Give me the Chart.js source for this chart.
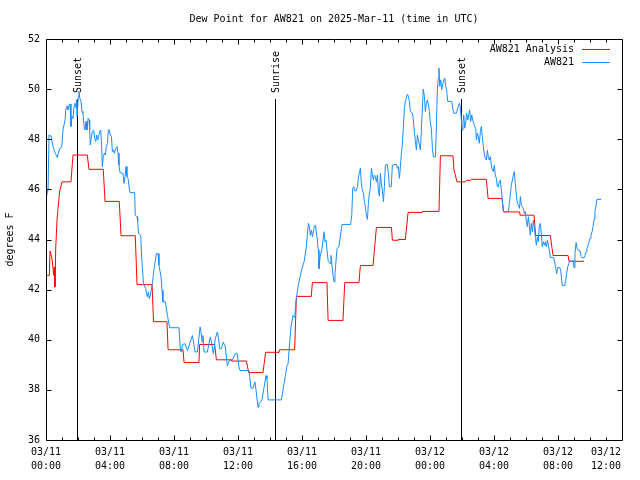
<!DOCTYPE html>
<html>
<head>
<meta charset="utf-8">
<script src="https://cdn.jsdelivr.net/npm/chart.js@4.4.1/dist/chart.umd.min.js"></script>
<style>
  body { margin: 0; background: #fff; }
</style>
</head>
<body>
<canvas id="dewChart" width="640" height="480"></canvas>
<script>
// dew point chart - AW821, hours since 03/11 00:00 UTC

const chartTitle = 'Dew Point for AW821 on 2025-Mar-11 (time in UTC)';

const xTickLabels = [
    ['03/11', '00:00'], ['03/11', '04:00'], ['03/11', '08:00'], ['03/11', '12:00'],
    ['03/11', '16:00'], ['03/11', '20:00'], ['03/12', '00:00'], ['03/12', '04:00'],
    ['03/12', '08:00'], ['03/12', '12:00']
];

const eventHours = [1.94, 14.31, 25.94];
const eventNames = ['Sunset', 'Sunrise', 'Sunset'];

// analysis (red)
const analysisHours = [
    0, 0.21, 0.25, 0.31, 0.36, 0.42, 0.48, 0.52, 0.56, 0.61, 0.69, 0.75, 0.85, 1.0,
    1.56, 1.65, 1.69, 2.58, 2.69, 3.58, 3.69, 4.58, 4.69, 5.58, 5.69, 6.63, 6.72,
    7.56, 7.63, 8.56, 8.63, 9.56, 9.6, 10.54, 10.65, 11.58, 11.6, 12.52, 12.67,
    13.56, 13.73, 14.56, 14.6, 15.54, 15.65, 16.58, 16.65, 17.56, 17.63, 18.56,
    18.67, 19.56, 19.65, 20.44, 20.65, 21.59, 21.65, 22.0, 22.02, 22.46, 22.63,
    23.5, 23.52, 24.56, 24.65, 25.44, 25.5, 25.69, 26.2, 26.3, 26.5, 26.6, 27.52,
    27.63, 28.5, 28.6, 29.6, 29.63, 30.5, 30.6, 31.52, 31.69, 32.63, 32.69, 33.63
];
const analysisValues = [
    42.57, 42.57, 43.54, 43.54, 43.3, 42.97, 42.57, 42.9, 42.1, 43.7, 44.77, 45.24, 45.9, 46.3,
    46.3, 47.04, 47.37, 47.37, 46.8, 46.8, 45.52, 45.52, 44.15, 44.15, 42.2, 42.2, 40.72,
    40.72, 39.6, 39.6, 39.09, 39.09, 39.81, 39.81, 39.2, 39.2, 39.15, 39.15, 38.69,
    38.69, 39.5, 39.5, 39.6, 39.6, 41.73, 41.73, 42.28, 42.28, 40.77, 40.77,
    42.28, 42.28, 42.96, 42.96, 44.48, 44.48, 43.97, 43.97, 44.0, 44.0, 45.08,
    45.08, 45.12, 45.12, 47.34, 47.34, 46.77, 46.3, 46.3, 46.37, 46.35, 46.4, 46.4,
    45.64, 45.64, 45.1, 45.1, 44.97, 44.97, 44.16, 44.16, 43.36, 43.36, 43.13, 43.13
];

// station observations (blue)
const stationHours = [
    0.03, 0.13, 0.19, 0.31, 0.44, 0.58, 0.71, 0.77, 0.86, 0.98, 1.06, 1.19, 1.25, 1.31,
    1.38, 1.44, 1.5, 1.56, 1.63, 1.69, 1.75, 1.81, 1.88, 1.92, 1.94, 2.02, 2.06, 2.11,
    2.19, 2.25, 2.31, 2.38, 2.44, 2.5, 2.56, 2.63, 2.69, 2.73, 2.77, 2.84, 2.9, 2.98,
    3.04, 3.11, 3.17, 3.23, 3.29, 3.36, 3.42, 3.48, 3.52, 3.58, 3.65, 3.71, 3.77, 3.84,
    3.9, 3.96, 4.02, 4.09, 4.15, 4.21, 4.27, 4.36, 4.44, 4.5, 4.56, 4.63, 4.81, 4.88,
    4.94, 5.0, 5.06, 5.13, 5.19, 5.25, 5.54, 5.58, 5.69, 5.73, 5.79, 5.92, 5.96, 6.02,
    6.09, 6.23, 6.33, 6.4, 6.46, 6.52, 6.65, 6.77, 6.9, 7.0, 7.06, 7.19, 7.25, 7.31,
    7.46, 7.59, 7.73, 8.31, 8.4, 8.46, 8.52, 8.69, 8.84, 8.98, 9.15, 9.27, 9.33, 9.46,
    9.63, 9.69, 9.75, 9.81, 9.88, 10.08, 10.27, 10.34, 10.46, 10.58, 10.71, 10.77,
    10.86, 10.96, 11.08, 11.21, 11.27, 11.33, 11.46, 11.65, 11.83, 11.94, 12.06, 12.13,
    12.69, 12.81, 12.94, 13.06, 13.13, 13.25, 13.31, 13.5, 13.63, 13.75, 13.81, 13.88,
    14.71, 14.84, 14.96, 15.06, 15.13, 15.19, 15.31, 15.44, 15.5, 15.56, 15.63, 15.75,
    15.88, 16.0, 16.13, 16.27, 16.34, 16.4, 16.46, 16.52, 16.59, 16.65, 16.77, 16.84,
    16.96, 17.02, 17.06, 17.13, 17.25, 17.38, 17.44, 17.5, 17.63, 17.75, 17.81, 17.94,
    18.0, 18.06, 18.19, 18.31, 18.44, 18.5, 19.04, 19.11, 19.17, 19.23, 19.29, 19.4,
    19.46, 19.52, 19.58, 19.65, 19.71, 19.77, 19.84, 19.9, 19.96, 20.02, 20.09, 20.15,
    20.21, 20.27, 20.34, 20.4, 20.46, 20.52, 20.58, 20.65, 20.71, 20.77, 20.84, 20.9,
    20.96, 21.02, 21.09, 21.15, 21.21, 21.33, 21.4, 21.46, 21.58, 21.65, 21.9, 21.96,
    22.02, 22.09, 22.15, 22.21, 22.27, 22.34, 22.4, 22.46, 22.52, 22.59, 22.65, 22.71,
    22.77, 22.9, 22.96, 23.02, 23.09, 23.15, 23.21, 23.27, 23.34, 23.4, 23.46, 23.52,
    23.58, 23.65, 23.71, 23.77, 23.84, 23.9, 23.96, 24.02, 24.09, 24.15, 24.21, 24.34,
    24.4, 24.46, 24.52, 24.56, 24.61, 24.67, 24.73, 24.79, 24.86, 24.92, 24.98, 25.04,
    25.11, 25.36, 25.42, 25.48, 25.65, 25.77, 25.84, 25.9, 25.96, 26.0, 26.06, 26.11,
    26.17, 26.23, 26.29, 26.36, 26.42, 26.48, 26.54, 26.61, 26.67, 26.73, 26.79, 26.86,
    26.9, 26.96, 27.02, 27.08, 27.15, 27.21, 27.27, 27.33, 27.4, 27.46, 27.52, 27.59,
    27.65, 27.71, 27.77, 27.83, 27.9, 27.96, 28.02, 28.08, 28.15, 28.21, 28.27, 28.33,
    28.4, 28.46, 28.52, 28.59, 28.9, 28.96, 29.02, 29.08, 29.15, 29.21, 29.27, 29.33,
    29.4, 29.46, 29.52, 29.59, 29.65, 29.71, 29.77, 29.83, 29.9, 29.96, 30.02, 30.08,
    30.15, 30.21, 30.27, 30.33, 30.4, 30.46, 30.52, 30.59, 30.65, 30.71, 30.77, 30.83,
    30.9, 30.96, 31.02, 31.09, 31.15, 31.21, 31.27, 31.34, 31.4, 31.46, 31.52, 31.73,
    31.79, 31.86, 31.92, 31.98, 32.11, 32.17, 32.23, 32.27, 32.42, 32.48, 32.54, 32.61,
    32.67, 32.73, 32.86, 32.94, 33.0, 33.06, 33.13, 33.19, 33.25, 33.38, 33.44, 33.5,
    33.63, 33.69, 33.75, 33.81, 33.88, 33.94, 34.0, 34.06, 34.13, 34.19, 34.25, 34.31,
    34.38, 34.44, 34.69
];
const stationValues = [
    45.71, 46.01, 48.17, 48.13, 47.71, 47.44, 47.27, 47.44, 47.64, 47.68, 48.37, 48.77, 49.24, 49.33,
    49.17, 49.37, 49.41, 48.51, 48.91, 48.84, 49.31, 49.44, 49.24, 49.57, 48.91, 49.71, 49.91, 49.64,
    49.51, 49.11, 49.04, 48.51, 48.37, 48.71, 48.37, 48.84, 48.77, 48.37, 47.77, 48.11, 48.31, 48.37,
    48.04, 47.91, 48.17, 47.97, 48.11, 48.31, 48.37, 47.71, 46.91, 47.31, 47.44, 47.37, 47.71, 47.84,
    48.37, 48.37, 48.17, 48.11, 47.51, 47.57, 47.44, 47.64, 47.71, 47.44, 46.97, 46.66, 46.64, 46.24,
    46.51, 46.91, 46.51, 46.44, 46.11, 45.87, 45.87, 44.97, 44.91, 44.71, 44.24, 44.17, 43.51, 42.91,
    42.24, 42.04, 41.71, 41.91, 41.64, 41.77, 42.24, 42.91, 43.44, 43.44, 42.97, 42.51, 41.97, 41.51,
    41.51, 40.97, 40.48, 40.48, 39.57, 39.51, 39.81, 39.84, 39.57, 39.84, 40.17, 39.71, 39.51, 39.51,
    40.51, 40.31, 39.91, 40.17, 39.51, 39.51, 40.11, 39.91, 39.44, 40.04, 40.31, 40.11,
    39.64, 39.64, 39.91, 39.71, 39.31, 38.97, 39.17, 39.2, 39.44, 39.47, 38.91, 38.77,
    38.77, 38.07, 38.07, 38.31, 37.97, 37.31, 37.44, 37.6, 38.11, 38.57, 38.44, 37.6,
    37.6, 38.11, 38.57, 38.97, 39.04, 39.57, 40.5, 40.97, 40.9, 41.04, 41.57, 42.11,
    42.51, 42.84, 43.11, 43.7, 44.24, 44.64, 44.51, 44.17, 44.37, 44.11, 44.51, 44.57,
    43.97, 43.57, 42.84, 43.31, 43.64, 44.31, 43.91, 43.97, 43.17, 43.04, 43.37, 42.57,
    42.31, 42.64, 43.64, 43.71, 44.31, 44.6, 44.6, 44.97, 46.04, 46.11, 45.95, 45.95,
    46.11, 46.44, 46.64, 46.84, 46.24, 45.97, 45.84, 45.51, 45.31, 44.97, 44.8, 45.44,
    45.84, 46.04, 46.84, 46.57, 46.37, 46.57, 46.51, 46.3, 46.57, 45.97, 45.73, 46.64,
    46.24, 45.97, 45.51, 46.11, 46.97, 47.0, 46.64, 46.11, 46.11, 46.97, 47.0, 46.84,
    46.91, 46.44, 46.91, 47.44, 47.77, 48.51, 49.24, 49.51, 49.64, 49.8, 49.71, 49.51,
    49.11, 49.04, 48.77, 48.31, 47.91, 47.57, 48.17, 47.97, 47.77, 47.57, 48.37, 49.17,
    50.0, 49.71, 49.11, 49.44, 49.57, 49.37, 49.11, 48.71, 48.37, 47.64, 47.3, 47.3,
    48.51, 49.97, 50.44, 50.84, 50.11, 50.37, 49.97, 50.17, 50.37, 50.44, 50.11, 49.97,
    49.51, 49.51, 49.24, 49.04, 49.04, 49.31, 49.44, 49.24, 48.77, 48.37, 48.64, 48.97,
    48.44, 48.64, 49.04, 48.77, 48.97, 49.17, 48.71, 48.97, 48.77, 48.64, 48.51, 48.44,
    47.97, 48.24, 48.11, 47.84, 48.31, 48.51, 48.11, 47.71, 47.37, 47.24, 47.17, 47.57,
    47.24, 47.17, 47.31, 46.97, 46.77, 46.71, 46.97, 46.57, 46.44, 46.11, 46.11, 46.31,
    46.37, 45.97, 45.57, 45.11, 45.11, 45.44, 45.77, 46.17, 46.37, 46.57, 46.71, 46.24,
    45.77, 45.44, 45.37, 45.24, 45.71, 45.37, 45.31, 45.24, 45.04, 45.11, 44.77, 44.51,
    44.91, 44.51, 44.17, 44.64, 44.31, 44.77, 44.51, 44.04, 43.77, 44.11, 43.91, 44.51,
    44.64, 44.17, 43.71, 43.91, 43.77, 43.91, 43.71, 43.97, 43.77, 43.57, 43.28, 43.28,
    43.11, 42.84, 42.64, 42.88, 42.88, 42.77, 42.37, 42.16, 42.16, 42.37, 42.64, 42.91,
    43.04, 43.17, 43.11, 43.17, 42.88, 43.44, 43.88, 43.64, 43.57, 43.55, 43.33, 43.27,
    43.27, 43.37, 43.51, 43.64, 43.77, 43.91, 44.04, 44.17, 44.31, 44.51, 44.8, 45.11,
    45.37, 45.6, 45.6
];

const FONT = '10px "DejaVu Sans Mono", monospace';

// frame, tics, sun lines, key - drawn gnuplot style
const gnuplotDecor = {
    id: 'gnuplotDecor',
    beforeDatasetsDraw(chart) {
        const { ctx, chartArea: a, scales: { x } } = chart;
        const top = a.bottom - 0.85 * (a.bottom - a.top);
        ctx.save();
        ctx.strokeStyle = '#000';
        ctx.fillStyle = '#000';
        ctx.lineWidth = 1;
        ctx.font = FONT;
        eventHours.forEach((h, i) => {
            const px = Math.round(x.getPixelForValue(h)) + 0.5;
            ctx.beginPath();
            ctx.moveTo(px, a.bottom);
            ctx.lineTo(px, Math.round(top));
            ctx.stroke();
            ctx.save();
            ctx.translate(px + 1, Math.round(top) - 6);
            ctx.rotate(-Math.PI / 2);
            ctx.textAlign = 'left';
            ctx.textBaseline = 'middle';
            ctx.fillText(eventNames[i], 0, 0);
            ctx.restore();
        });
        ctx.restore();
    },
    afterDraw(chart) {
        const { ctx, chartArea: a, scales: { x, y } } = chart;
        const L = Math.round(a.left) + 0.5, R = Math.round(a.right) + 0.5;
        const T = Math.round(a.top) + 0.5, B = Math.round(a.bottom) + 0.5;
        ctx.save();
        ctx.strokeStyle = '#000';
        ctx.fillStyle = '#000';
        ctx.lineWidth = 1;

        ctx.beginPath();
        ctx.rect(L, T, R - L, B - T);

        // x tics: minor every hour, major every 4
        for (let h = 1; h < 36; h++) {
            const px = Math.round(x.getPixelForValue(h)) + 0.5;
            const len = h % 4 === 0 ? 5 : 3;
            ctx.moveTo(px, B); ctx.lineTo(px, B - len);
            ctx.moveTo(px, T); ctx.lineTo(px, T + len);
        }
        // y tics
        y.ticks.forEach(t => {
            const py = Math.round(y.getPixelForValue(t.value)) + 0.5;
            ctx.moveTo(L, py); ctx.lineTo(L + 5, py);
            ctx.moveTo(R, py); ctx.lineTo(R - 5, py);
        });
        ctx.stroke();

        // x tick labels, last one kept inside the canvas
        ctx.font = FONT;
        ctx.textAlign = 'center';
        ctx.textBaseline = 'middle';
        x.ticks.forEach(t => {
            const lines = xTickLabels[Math.round(t.value / 4)];
            if (!lines) return;
            let px = x.getPixelForValue(t.value);
            const half = ctx.measureText(lines[0]).width / 2;
            if (px + half > chart.width - 19) px = chart.width - 19 - half;
            ctx.fillText(lines[0], px, B + 12);
            ctx.fillText(lines[1], px, B + 26);
        });

        // key
        chart.data.datasets.forEach((ds, i) => {
            const ky = Math.round(a.top) + 10 + i * 13;
            ctx.textAlign = 'right';
            ctx.fillStyle = '#000';
            ctx.fillText(ds.label, a.right - 48, ky);
            ctx.strokeStyle = ds.borderColor;
            ctx.beginPath();
            ctx.moveTo(a.right - 40, ky + 0.5);
            ctx.lineTo(a.right - 12, ky + 0.5);
            ctx.stroke();
        });
        ctx.restore();
    }
};

const ctx = document.getElementById('dewChart').getContext('2d');

new Chart(ctx, {
    type: 'line',
    data: {
        datasets: [{
            label: 'AW821 Analysis',
            data: analysisHours.map((h, i) => ({ x: h, y: analysisValues[i] })),
            borderColor: '#ff0000',
            borderWidth: 1,
            pointRadius: 0,
            order: 1
        }, {
            label: 'AW821',
            data: stationHours.map((h, i) => ({ x: h, y: stationValues[i] })),
            borderColor: '#1a8cff',
            borderWidth: 1,
            pointRadius: 0,
            order: 0
        }]
    },
    options: {
        responsive: false,
        animation: false,
        devicePixelRatio: 1,
        layout: { padding: { left: 0, right: 18, top: 0, bottom: 0 } },
        plugins: {
            legend: { display: false },
            tooltip: { enabled: false },
            title: {
                display: true,
                fullSize: false,
                text: chartTitle,
                color: '#000',
                font: { family: '"DejaVu Sans Mono", monospace', size: 10, weight: 'normal', lineHeight: 1.2 },
                padding: { top: 13, bottom: 14 }
            }
        },
        scales: {
            x: {
                type: 'linear',
                min: 0,
                max: 36,
                ticks: { stepSize: 4, display: false },
                grid: { display: false, drawTicks: false },
                border: { display: false },
                afterFit: s => { s.height = 40; }
            },
            y: {
                min: 36,
                max: 52,
                ticks: {
                    stepSize: 2,
                    color: '#000',
                    padding: 6,
                    font: { family: '"DejaVu Sans Mono", monospace', size: 10 }
                },
                grid: { display: false, drawTicks: false },
                border: { display: false },
                title: {
                    display: true,
                    text: 'degrees F',
                    color: '#000',
                    font: { family: '"DejaVu Sans Mono", monospace', size: 10 },
                    padding: { top: 4, bottom: 4 }
                },
                afterFit: s => { s.width = 46; }
            }
        }
    },
    plugins: [gnuplotDecor]
});
</script>
</body>
</html>
